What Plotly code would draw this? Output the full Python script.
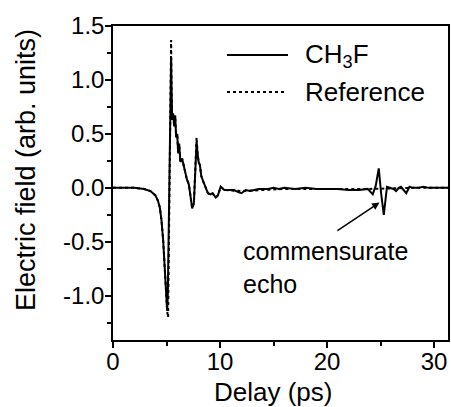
import plotly.graph_objects as go

# ---- data ----
delay_ch3f = [0, 1, 2, 2.9, 3.5, 3.96, 4.2, 4.37, 4.53, 4.69, 4.81, 4.93, 5.06, 5.12, 5.25, 5.36,
              5.43, 5.47, 5.53, 5.62, 5.72, 5.81, 5.9, 6.0, 6.09, 6.18, 6.3, 6.46, 6.6, 6.78, 6.9,
              7.09, 7.25, 7.4, 7.56, 7.7, 7.81, 7.9, 8.0, 8.12, 8.25, 8.43, 8.65, 8.87, 9.12, 9.3,
              9.6, 9.8, 10.06, 10.2, 10.4, 10.8, 11.3, 11.7, 12.0, 12.4, 12.8, 13.2, 13.6, 14.0,
              14.5, 15.0, 15.5, 16.0, 17.0, 18.0, 19.0, 20.0, 21.0, 22.0, 23.0, 23.8, 24.27, 24.55,
              24.83, 25.05, 25.3, 25.6, 25.9, 26.2, 26.45, 26.7, 26.9, 27.15, 27.4, 27.7, 28.0,
              28.5, 29.0, 29.5, 30.0, 30.5, 31.3]
field_ch3f = [0, 0, 0, -0.01, -0.03, -0.07, -0.12, -0.18, -0.3, -0.49, -0.73, -0.92, -1.14, -1.0,
              -0.2, 0.7, 1.2, 0.93, 0.63, 0.69, 0.57, 0.67, 0.47, 0.5, 0.32, 0.41, 0.24, 0.27, 0.21,
              0.14, 0.08, 0.03, -0.11, -0.19, -0.14, 0.14, 0.43, 0.32, 0.24, 0.21, 0.11, 0.06, 0.01,
              -0.05, -0.06, -0.05, -0.09, -0.07, 0.01, 0.0, -0.02, -0.02, -0.02, -0.04, -0.05, -0.02,
              -0.03, -0.02, -0.01, -0.01, -0.01, 0.0, -0.01, 0.0, -0.01, 0.0, -0.01, -0.01, -0.01,
              -0.02, -0.02, -0.01, -0.06, 0.02, 0.18, -0.05, -0.25, 0.01, 0.0, -0.01, -0.03, 0.0,
              0.01, -0.02, -0.05, 0.01, 0.0, 0.0, 0.01, 0.0, 0.0, 0.0, 0.0]

delay_ref = [0, 1, 2, 2.9, 3.5, 3.96, 4.2, 4.37, 4.53, 4.69, 4.81, 4.93, 5.06, 5.15, 5.28, 5.36,
             5.43, 5.47, 5.53, 5.62, 5.72, 5.81, 5.9, 6.0, 6.09, 6.18, 6.3, 6.46, 6.6, 6.78, 6.9,
             7.09, 7.25, 7.4, 7.56, 7.7, 7.81, 7.9, 8.0, 8.12, 8.25, 8.43, 8.65, 8.87, 9.12, 9.3,
             9.6, 9.8, 10.06, 10.4, 12.0, 16.0, 20.0, 24.0, 28.0, 31.3]
field_ref = [0, 0, 0, -0.01, -0.03, -0.07, -0.12, -0.18, -0.3, -0.49, -0.73, -0.92, -1.14, -1.2,
             -0.2, 0.8, 1.37, 0.95, 0.63, 0.69, 0.57, 0.67, 0.47, 0.5, 0.32, 0.41, 0.24, 0.27, 0.21,
             0.14, 0.08, 0.03, -0.11, -0.19, -0.14, 0.16, 0.47, 0.32, 0.24, 0.21, 0.11, 0.06, 0.01,
             -0.05, -0.06, -0.05, -0.09, -0.07, 0.01, -0.02, -0.03, -0.01, -0.01, -0.01, 0.0, 0.0]

x_ticks = [0, 10, 20, 30]
y_ticks = [-1.0, -0.5, 0.0, 0.5, 1.0, 1.5]
y_ticklabels = ["-1.0", "-0.5", "0.0", "0.5", "1.0", "1.5"]

FONT = "Liberation Sans, Arial, sans-serif"

W, H = 451, 407
PL, PR, PT, PB = 113, 448, 26, 340   # target plot box in window pixels
PW, PH = PR - PL, PB - PT


def px(x):
    return (x - PL) / PW


def py(y):
    return (PB - y) / PH


fig = go.Figure()
fig.add_trace(go.Scatter(x=delay_ref, y=field_ref, mode="lines", name="Reference",
                         line=dict(color="black", width=2, dash="dot"), showlegend=False))
fig.add_trace(go.Scatter(x=delay_ch3f, y=field_ch3f, mode="lines", name="CH3F",
                         line=dict(color="black", width=2), showlegend=False))

axis_common = dict(showline=True, linecolor="black", linewidth=1.5, mirror=True,
                   ticks="outside", ticklen=6, tickwidth=1.5, tickcolor="black",
                   showgrid=False, zeroline=False,
                   tickfont=dict(family=FONT, size=24, color="black"))

fig.update_xaxes(range=[0, 31.3], tickvals=x_ticks, ticktext=[str(v) for v in x_ticks],
                 ticklabelstandoff=-7,
                 minor=dict(dtick=5, tick0=0, ticks="outside", ticklen=4, tickcolor="black"),
                 **axis_common)
fig.update_yaxes(range=[-1.41, 1.5], tickvals=y_ticks, ticktext=y_ticklabels,
                 ticklabelstandoff=-4,
                 minor=dict(dtick=0.25, tick0=0, ticks="outside", ticklen=4, tickcolor="black"),
                 **axis_common)

annotations = [
    dict(text="Delay (ps)", xref="paper", yref="paper", x=px(273), y=py(392),
         showarrow=False, font=dict(family=FONT, size=26, color="black"),
         xanchor="center", yanchor="middle"),
    dict(text="Electric field (arb. units)", xref="paper", yref="paper", x=px(26), y=py(170),
         textangle=-90, showarrow=False, font=dict(family=FONT, size=27, color="black"),
         xanchor="center", yanchor="middle"),
    dict(text="commensurate<br>echo", xref="x", yref="y", x=12.0, y=-0.736,
         showarrow=False, align="left", font=dict(family=FONT, size=25, color="black"),
         xanchor="left", yanchor="middle"),
    dict(text="", xref="x", yref="y", x=24.9, y=-0.136, axref="x", ayref="y",
         ax=20.83, ay=-0.405, showarrow=True, arrowhead=2, arrowsize=1,
         arrowwidth=1.5, arrowcolor="black"),
    # legend texts
    dict(text="CH<sub>3</sub>F", xref="paper", yref="paper", x=px(303), y=py(56),
         showarrow=False, xanchor="left", yanchor="middle",
         font=dict(family=FONT, size=26, color="black")),
    dict(text="Reference", xref="paper", yref="paper", x=px(303), y=py(92),
         showarrow=False, xanchor="left", yanchor="middle",
         font=dict(family=FONT, size=26, color="black")),
]

shapes = [
    dict(type="line", xref="paper", yref="paper", x0=px(227), x1=px(288),
         y0=py(55), y1=py(55), line=dict(color="black", width=2)),
    dict(type="line", xref="paper", yref="paper", x0=px(227), x1=px(285),
         y0=py(92), y1=py(92), line=dict(color="black", width=2, dash="dot")),
]

fig.update_layout(width=W, height=H,
                  margin=dict(l=PL, r=W - PR, t=PT, b=H - PB, autoexpand=False),
                  paper_bgcolor="white", plot_bgcolor="white",
                  annotations=annotations, shapes=shapes, showlegend=False)

# remove the default 8px page margin so the figure fills the window exactly
fig.write_html("out.html", config={"displayModeBar": False},
               post_script="document.body.style.margin='0';"
                           "document.body.style.overflow='hidden';")
